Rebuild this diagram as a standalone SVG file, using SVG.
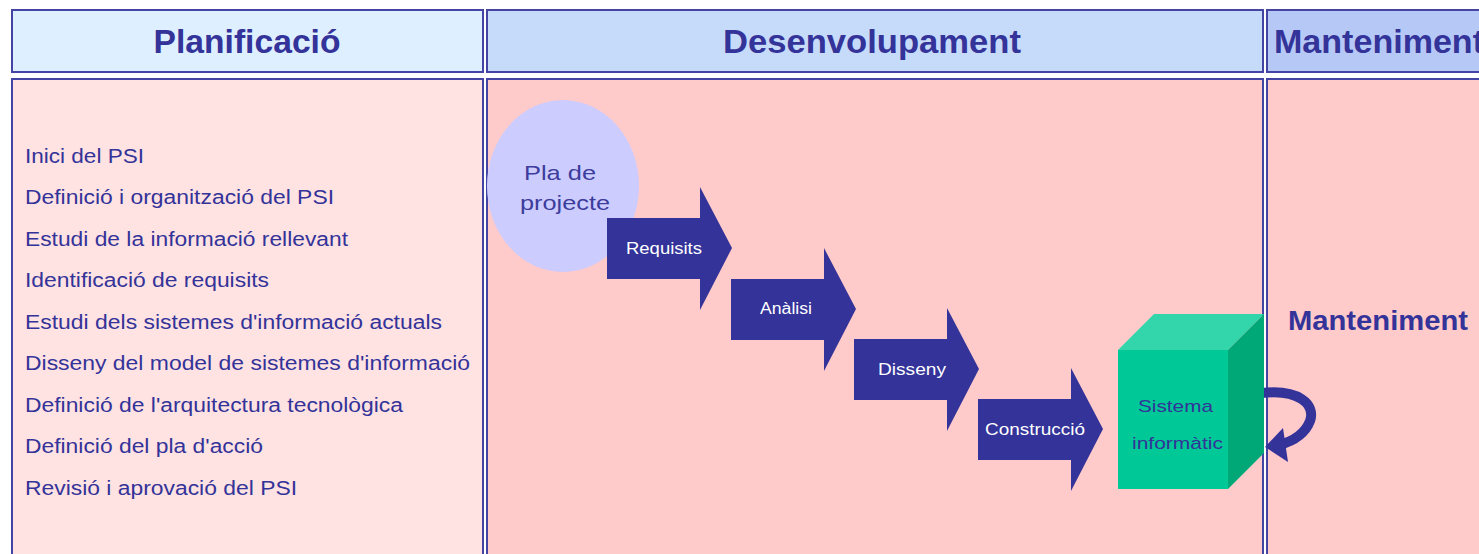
<svg xmlns="http://www.w3.org/2000/svg" width="1479" height="554" viewBox="0 0 1479 554">
<defs>
<style>
.box{stroke:#4444a4;stroke-width:2}
.hdr{font-family:"Liberation Sans",Arial,sans-serif;font-weight:bold;font-size:34px;fill:#333399}
.item{font-family:"Liberation Sans",Arial,sans-serif;font-size:20px;fill:#333399}
.arrow{fill:#333399}
.alabel{font-family:"Liberation Sans",Arial,sans-serif;font-size:16px;fill:#ffffff;text-anchor:middle}
.ctext{font-family:"Liberation Sans",Arial,sans-serif;font-size:17px;fill:#333399}
</style>
<path id="arr" d="M0,0 H93 V-31 L125,30 L93,92 V61 H0 Z"/>
</defs>
<rect width="1479" height="554" fill="#ffffff"/>

<g id="col-planificacio">
<rect class="box" x="12" y="10" width="471" height="62" fill="#deefff"/>
<text class="hdr" x="247" y="53" text-anchor="middle" textLength="187" lengthAdjust="spacingAndGlyphs">Planificació</text>
<rect class="box" x="12" y="79" width="471" height="490" fill="#ffe2e2"/>
</g>
<g id="col-desenvolupament">
<rect class="box" x="487" y="10" width="776" height="62" fill="#c6dafa"/>
<text class="hdr" x="872" y="53" text-anchor="middle" textLength="298" lengthAdjust="spacingAndGlyphs">Desenvolupament</text>
<rect class="box" x="487" y="79" width="776" height="490" fill="#ffcaca"/>
</g>
<g id="col-manteniment">
<rect class="box" x="1267" y="10" width="240" height="62" fill="#b6c9f6"/>
<text class="hdr" x="1274" y="53" textLength="210" lengthAdjust="spacingAndGlyphs">Manteniment</text>
<rect class="box" x="1267" y="79" width="240" height="490" fill="#ffcaca"/>
</g>

<g id="planificacio-list">
<text class="item" x="25" y="163" textLength="119" lengthAdjust="spacingAndGlyphs">Inici del PSI</text>
<text class="item" x="25" y="204" textLength="309" lengthAdjust="spacingAndGlyphs">Definició i organització del PSI</text>
<text class="item" x="25" y="246" textLength="323" lengthAdjust="spacingAndGlyphs">Estudi de la informació rellevant</text>
<text class="item" x="25" y="287" textLength="244" lengthAdjust="spacingAndGlyphs">Identificació de requisits</text>
<text class="item" x="25" y="329" textLength="417" lengthAdjust="spacingAndGlyphs">Estudi dels sistemes d'informació actuals</text>
<text class="item" x="25" y="370" textLength="445" lengthAdjust="spacingAndGlyphs">Disseny del model de sistemes d'informació</text>
<text class="item" x="25" y="412" textLength="378" lengthAdjust="spacingAndGlyphs">Definició de l'arquitectura tecnològica</text>
<text class="item" x="25" y="453" textLength="238" lengthAdjust="spacingAndGlyphs">Definició del pla d'acció</text>
<text class="item" x="25" y="495" textLength="272" lengthAdjust="spacingAndGlyphs">Revisió i aprovació del PSI</text>
</g>

<g id="pla-de-projecte">
<ellipse cx="563" cy="186" rx="76" ry="86" fill="#ccccff"/>
<text x="560" y="180" text-anchor="middle" font-family="'Liberation Sans',Arial,sans-serif" font-size="21" fill="#3c3c9c" textLength="72" lengthAdjust="spacingAndGlyphs">Pla de</text>
<text x="565" y="210" text-anchor="middle" font-family="'Liberation Sans',Arial,sans-serif" font-size="21" fill="#3c3c9c" textLength="90" lengthAdjust="spacingAndGlyphs">projecte</text>
</g>

<g id="connectors">
<g id="loop-arrow" fill="none">
<path d="M1262,393 C1298,389 1316,404 1310,421 C1305,434 1294,441 1279,445" stroke="#333399" stroke-width="10"/>
<polygon points="1283,428 1265,447 1288,462" fill="#333399"/>
</g>
</g>

<g id="requisits">
<use href="#arr" class="arrow" x="607" y="218"/>
<text class="alabel" x="664" y="254" textLength="76" lengthAdjust="spacingAndGlyphs">Requisits</text>
</g>
<g id="analisi">
<use href="#arr" class="arrow" x="731" y="279"/>
<text class="alabel" x="786" y="314" textLength="52" lengthAdjust="spacingAndGlyphs">Anàlisi</text>
</g>
<g id="disseny">
<use href="#arr" class="arrow" x="854" y="339"/>
<text class="alabel" x="912" y="375" textLength="68" lengthAdjust="spacingAndGlyphs">Disseny</text>
</g>
<g id="construccio">
<use href="#arr" class="arrow" x="978" y="399"/>
<text class="alabel" x="1035" y="435" textLength="100" lengthAdjust="spacingAndGlyphs">Construcció</text>
</g>

<g id="sistema-informatic">
<polygon points="1118,350 1154,314 1264,314 1228,350" fill="#33d6aa"/>
<polygon points="1228,350 1264,314 1264,453 1228,489" fill="#00a878"/>
<rect x="1118" y="350" width="110" height="139" fill="#00c896"/>
<text class="ctext" x="1138" y="412" textLength="75" lengthAdjust="spacingAndGlyphs">Sistema</text>
<text class="ctext" x="1132" y="449" textLength="91" lengthAdjust="spacingAndGlyphs">informàtic</text>
</g>

<g id="manteniment-label">
<text x="1288" y="330" font-family="'Liberation Sans',Arial,sans-serif" font-weight="bold" font-size="28" fill="#333399" textLength="180" lengthAdjust="spacingAndGlyphs">Manteniment</text>
</g>
</svg>
